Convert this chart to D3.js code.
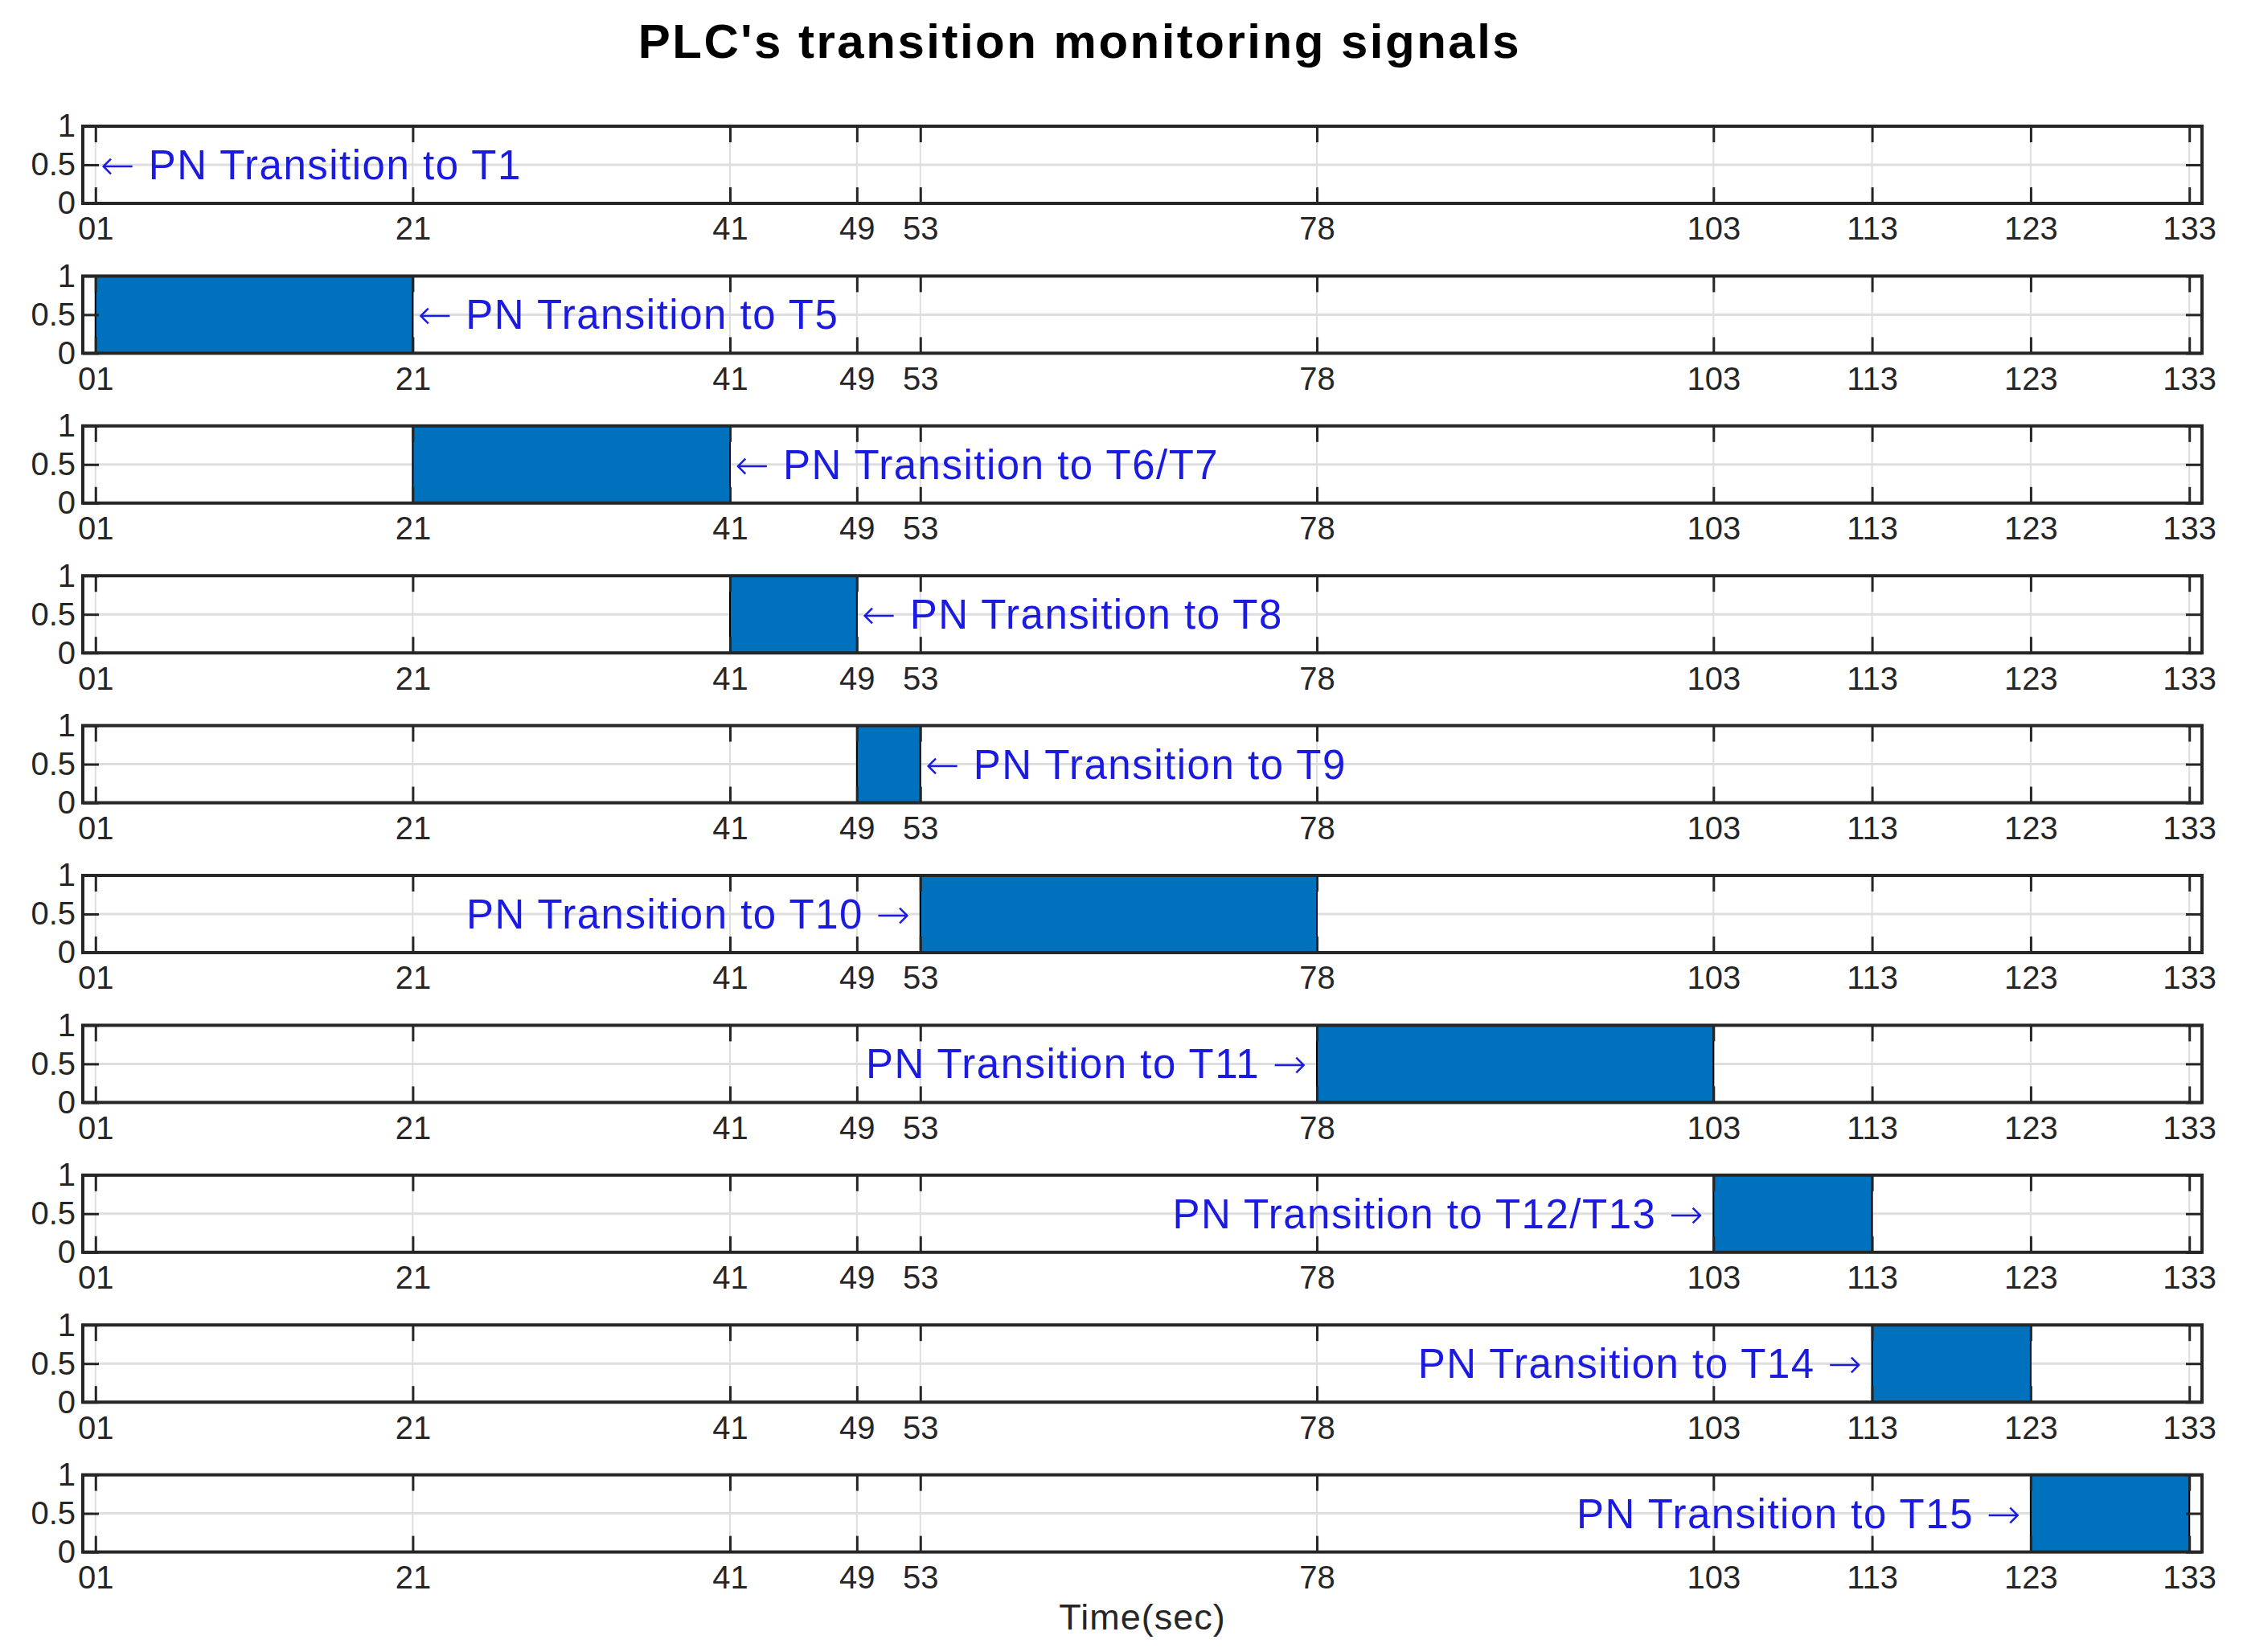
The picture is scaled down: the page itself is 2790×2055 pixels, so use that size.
<!DOCTYPE html>
<html>
<head>
<meta charset="utf-8">
<script src="https://cdn.jsdelivr.net/npm/d3@7"></script>
<style>
  body { margin: 0; background: #fff; }
  svg { display: block; font-family: "Liberation Sans", Arial, sans-serif; }
  .tick text { fill: #262626; }
</style>
</head>
<body>
<div id="chart"></div>
<script>
// signal names, one per panel
var transitions = ["T1", "T5", "T6/T7", "T8", "T9", "T10", "T11", "T12/T13", "T14", "T15"];
// pulse start / end time (sec) of every signal
var pulseStart = [1, 1, 21, 41, 49, 53, 78, 103, 113, 123];
var pulseEnd   = [1, 21, 41, 49, 53, 78, 103, 113, 123, 133];
// where the annotation points to, and on which side the text sits
var labelAt   = [1, 21, 41, 49, 53, 53, 78, 103, 113, 123];
var labelSide = ["right", "right", "right", "right", "right", "left", "left", "left", "left", "left"];

var xTicks = [1, 21, 41, 49, 53, 78, 103, 113, 123, 133];
var xTickLabels = ["01", "21", "41", "49", "53", "78", "103", "113", "123", "133"];
var yTicks = [0, 0.5, 1];
var yTickLabels = ["0", "0.5", "1"];

var width = 2790, height = 2055;
var left = 103, right = 2739;
var top0 = 157, step = 186.4, panelH = 96;
var tickLen = 20;

var svg = d3.select("#chart").append("svg")
  .attr("width", width)
  .attr("height", height);

var x = d3.scaleLinear().domain([0.2, 133.8]).range([left, right]);

svg.append("text")
  .attr("x", 1343)
  .attr("y", 72)
  .attr("text-anchor", "middle")
  .attr("font-size", 60)
  .attr("font-weight", "bold")
  .attr("letter-spacing", 2.5)
  .attr("fill", "#000")
  .text("PLC's transition monitoring signals");

transitions.forEach(function(name, i) {
  var top = top0 + i * step;
  var y = d3.scaleLinear().domain([0, 1]).range([top + panelH, top]);
  var g = svg.append("g").attr("class", "panel");

  // grid
  g.selectAll(".vgrid").data(xTicks).enter()
    .append("line")
      .attr("x1", function(d) { return x(d); })
      .attr("x2", function(d) { return x(d); })
      .attr("y1", top)
      .attr("y2", top + panelH)
      .attr("stroke", "#dedede")
      .attr("stroke-width", 2);
  g.append("line")
    .attr("x1", left).attr("x2", right)
    .attr("y1", y(0.5)).attr("y2", y(0.5))
    .attr("stroke", "#dedede")
    .attr("stroke-width", 3);

  // pulse
  if (pulseEnd[i] > pulseStart[i]) {
    g.append("rect")
      .attr("x", x(pulseStart[i]))
      .attr("y", y(1))
      .attr("width", x(pulseEnd[i]) - x(pulseStart[i]))
      .attr("height", y(0) - y(1))
      .attr("fill", "#0072BD")
      .attr("stroke", "#000")
      .attr("stroke-width", 2);
  }

  // axes
  var bottom = g.append("g")
    .attr("transform", "translate(0," + (top + panelH) + ")")
    .call(d3.axisBottom(x).tickValues(xTicks)
      .tickFormat(function(d, k) { return xTickLabels[k]; })
      .tickSizeInner(-tickLen).tickSizeOuter(0).tickPadding(17));
  bottom.selectAll("text").attr("font-size", 40).attr("font-family", null).attr("dy", "0.71em");

  g.append("g")
    .attr("transform", "translate(0," + top + ")")
    .call(d3.axisTop(x).tickValues(xTicks).tickFormat("")
      .tickSizeInner(-tickLen).tickSizeOuter(0));

  var leftAx = g.append("g")
    .attr("transform", "translate(" + left + ",0)")
    .call(d3.axisLeft(y).tickValues(yTicks)
      .tickFormat(function(d, k) { return yTickLabels[k]; })
      .tickSizeInner(-tickLen).tickSizeOuter(0).tickPadding(9));
  leftAx.selectAll("text").attr("font-size", 40).attr("font-family", null);

  g.append("g")
    .attr("transform", "translate(" + right + ",0)")
    .call(d3.axisRight(y).tickValues(yTicks).tickFormat("")
      .tickSizeInner(-tickLen).tickSizeOuter(0));

  g.selectAll(".domain").remove();
  g.selectAll(".tick line").attr("stroke", "#262626").attr("stroke-width", 3);

  g.append("rect")
    .attr("x", left).attr("y", top)
    .attr("width", right - left).attr("height", panelH)
    .attr("fill", "none")
    .attr("stroke", "#262626")
    .attr("stroke-width", 4);

  // annotation, arrow in DejaVu so it is long like the TeX arrow
  var onRight = labelSide[i] === "right";
  var t = g.append("text")
    .attr("x", x(labelAt[i]) + (onRight ? 6 : -11))
    .attr("y", y(0.5) + 18)
    .attr("text-anchor", onRight ? "start" : "end")
    .attr("font-size", 51)
    .attr("letter-spacing", 1.5)
    .attr("fill", "#1a1ae0");
  if (onRight) {
    t.append("tspan").attr("font-family", "DejaVu Sans").attr("font-weight", 200).text("\u2190");
    t.append("tspan").text(" PN Transition to " + name);
  } else {
    t.append("tspan").text("PN Transition to " + name + " ");
    t.append("tspan").attr("font-family", "DejaVu Sans").attr("font-weight", 200).text("\u2192");
  }
});

svg.append("text")
  .attr("x", 1421)
  .attr("y", 2027)
  .attr("text-anchor", "middle")
  .attr("font-size", 45)
  .attr("letter-spacing", 1)
  .attr("fill", "#262626")
  .text("Time(sec)");
</script>
</body>
</html>
